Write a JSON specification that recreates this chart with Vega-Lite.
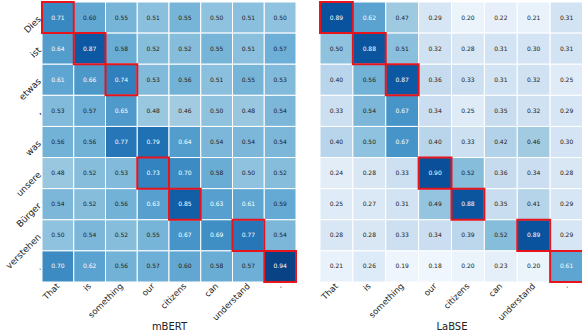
{
 "$schema": "https://vega.github.io/schema/vega-lite/v6.json",
 "padding": {"left": 4, "top": 1, "right": 0, "bottom": 0},
 "config": {"view": {"stroke": null}, "font": "DejaVu Sans", "concat": {"spacing": 22}},
 "datasets": {"cells": [
{"m":"mBERT","s":"Dies","t":"That","v":0.71,"g":true},{"m":"mBERT","s":"Dies","t":"is","v":0.60},{"m":"mBERT","s":"Dies","t":"something","v":0.55},{"m":"mBERT","s":"Dies","t":"our","v":0.51},{"m":"mBERT","s":"Dies","t":"citizens","v":0.55},{"m":"mBERT","s":"Dies","t":"can","v":0.50},{"m":"mBERT","s":"Dies","t":"understand","v":0.51},{"m":"mBERT","s":"Dies","t":".","v":0.50},
{"m":"mBERT","s":"ist","t":"That","v":0.64},{"m":"mBERT","s":"ist","t":"is","v":0.87,"g":true},{"m":"mBERT","s":"ist","t":"something","v":0.58},{"m":"mBERT","s":"ist","t":"our","v":0.52},{"m":"mBERT","s":"ist","t":"citizens","v":0.52},{"m":"mBERT","s":"ist","t":"can","v":0.55},{"m":"mBERT","s":"ist","t":"understand","v":0.51},{"m":"mBERT","s":"ist","t":".","v":0.57},
{"m":"mBERT","s":"etwas","t":"That","v":0.61},{"m":"mBERT","s":"etwas","t":"is","v":0.66},{"m":"mBERT","s":"etwas","t":"something","v":0.74,"g":true},{"m":"mBERT","s":"etwas","t":"our","v":0.53},{"m":"mBERT","s":"etwas","t":"citizens","v":0.56},{"m":"mBERT","s":"etwas","t":"can","v":0.51},{"m":"mBERT","s":"etwas","t":"understand","v":0.55},{"m":"mBERT","s":"etwas","t":".","v":0.53},
{"m":"mBERT","s":",","t":"That","v":0.53},{"m":"mBERT","s":",","t":"is","v":0.57},{"m":"mBERT","s":",","t":"something","v":0.65},{"m":"mBERT","s":",","t":"our","v":0.48},{"m":"mBERT","s":",","t":"citizens","v":0.46},{"m":"mBERT","s":",","t":"can","v":0.50},{"m":"mBERT","s":",","t":"understand","v":0.48},{"m":"mBERT","s":",","t":".","v":0.54},
{"m":"mBERT","s":"was","t":"That","v":0.56},{"m":"mBERT","s":"was","t":"is","v":0.56},{"m":"mBERT","s":"was","t":"something","v":0.77},{"m":"mBERT","s":"was","t":"our","v":0.79},{"m":"mBERT","s":"was","t":"citizens","v":0.64},{"m":"mBERT","s":"was","t":"can","v":0.54},{"m":"mBERT","s":"was","t":"understand","v":0.54},{"m":"mBERT","s":"was","t":".","v":0.54},
{"m":"mBERT","s":"unsere","t":"That","v":0.48},{"m":"mBERT","s":"unsere","t":"is","v":0.52},{"m":"mBERT","s":"unsere","t":"something","v":0.53},{"m":"mBERT","s":"unsere","t":"our","v":0.73,"g":true},{"m":"mBERT","s":"unsere","t":"citizens","v":0.70},{"m":"mBERT","s":"unsere","t":"can","v":0.58},{"m":"mBERT","s":"unsere","t":"understand","v":0.50},{"m":"mBERT","s":"unsere","t":".","v":0.52},
{"m":"mBERT","s":"Bürger","t":"That","v":0.54},{"m":"mBERT","s":"Bürger","t":"is","v":0.52},{"m":"mBERT","s":"Bürger","t":"something","v":0.56},{"m":"mBERT","s":"Bürger","t":"our","v":0.63},{"m":"mBERT","s":"Bürger","t":"citizens","v":0.85,"g":true},{"m":"mBERT","s":"Bürger","t":"can","v":0.63},{"m":"mBERT","s":"Bürger","t":"understand","v":0.61},{"m":"mBERT","s":"Bürger","t":".","v":0.59},
{"m":"mBERT","s":"verstehen","t":"That","v":0.50},{"m":"mBERT","s":"verstehen","t":"is","v":0.54},{"m":"mBERT","s":"verstehen","t":"something","v":0.52},{"m":"mBERT","s":"verstehen","t":"our","v":0.55},{"m":"mBERT","s":"verstehen","t":"citizens","v":0.67},{"m":"mBERT","s":"verstehen","t":"can","v":0.69},{"m":"mBERT","s":"verstehen","t":"understand","v":0.77,"g":true},{"m":"mBERT","s":"verstehen","t":".","v":0.54},
{"m":"mBERT","s":".","t":"That","v":0.70},{"m":"mBERT","s":".","t":"is","v":0.62},{"m":"mBERT","s":".","t":"something","v":0.56},{"m":"mBERT","s":".","t":"our","v":0.57},{"m":"mBERT","s":".","t":"citizens","v":0.60},{"m":"mBERT","s":".","t":"can","v":0.58},{"m":"mBERT","s":".","t":"understand","v":0.57},{"m":"mBERT","s":".","t":".","v":0.94,"g":true},
{"m":"LaBSE","s":"Dies","t":"That","v":0.89,"g":true},{"m":"LaBSE","s":"Dies","t":"is","v":0.62},{"m":"LaBSE","s":"Dies","t":"something","v":0.47},{"m":"LaBSE","s":"Dies","t":"our","v":0.29},{"m":"LaBSE","s":"Dies","t":"citizens","v":0.20},{"m":"LaBSE","s":"Dies","t":"can","v":0.22},{"m":"LaBSE","s":"Dies","t":"understand","v":0.21},{"m":"LaBSE","s":"Dies","t":".","v":0.31},
{"m":"LaBSE","s":"ist","t":"That","v":0.50},{"m":"LaBSE","s":"ist","t":"is","v":0.88,"g":true},{"m":"LaBSE","s":"ist","t":"something","v":0.51},{"m":"LaBSE","s":"ist","t":"our","v":0.32},{"m":"LaBSE","s":"ist","t":"citizens","v":0.28},{"m":"LaBSE","s":"ist","t":"can","v":0.31},{"m":"LaBSE","s":"ist","t":"understand","v":0.30},{"m":"LaBSE","s":"ist","t":".","v":0.31},
{"m":"LaBSE","s":"etwas","t":"That","v":0.40},{"m":"LaBSE","s":"etwas","t":"is","v":0.56},{"m":"LaBSE","s":"etwas","t":"something","v":0.87,"g":true},{"m":"LaBSE","s":"etwas","t":"our","v":0.36},{"m":"LaBSE","s":"etwas","t":"citizens","v":0.33},{"m":"LaBSE","s":"etwas","t":"can","v":0.31},{"m":"LaBSE","s":"etwas","t":"understand","v":0.32},{"m":"LaBSE","s":"etwas","t":".","v":0.25},
{"m":"LaBSE","s":",","t":"That","v":0.33},{"m":"LaBSE","s":",","t":"is","v":0.54},{"m":"LaBSE","s":",","t":"something","v":0.67},{"m":"LaBSE","s":",","t":"our","v":0.34},{"m":"LaBSE","s":",","t":"citizens","v":0.25},{"m":"LaBSE","s":",","t":"can","v":0.35},{"m":"LaBSE","s":",","t":"understand","v":0.32},{"m":"LaBSE","s":",","t":".","v":0.29},
{"m":"LaBSE","s":"was","t":"That","v":0.40},{"m":"LaBSE","s":"was","t":"is","v":0.50},{"m":"LaBSE","s":"was","t":"something","v":0.67},{"m":"LaBSE","s":"was","t":"our","v":0.40},{"m":"LaBSE","s":"was","t":"citizens","v":0.33},{"m":"LaBSE","s":"was","t":"can","v":0.42},{"m":"LaBSE","s":"was","t":"understand","v":0.46},{"m":"LaBSE","s":"was","t":".","v":0.30},
{"m":"LaBSE","s":"unsere","t":"That","v":0.24},{"m":"LaBSE","s":"unsere","t":"is","v":0.28},{"m":"LaBSE","s":"unsere","t":"something","v":0.33},{"m":"LaBSE","s":"unsere","t":"our","v":0.90,"g":true},{"m":"LaBSE","s":"unsere","t":"citizens","v":0.52},{"m":"LaBSE","s":"unsere","t":"can","v":0.36},{"m":"LaBSE","s":"unsere","t":"understand","v":0.34},{"m":"LaBSE","s":"unsere","t":".","v":0.28},
{"m":"LaBSE","s":"Bürger","t":"That","v":0.25},{"m":"LaBSE","s":"Bürger","t":"is","v":0.27},{"m":"LaBSE","s":"Bürger","t":"something","v":0.31},{"m":"LaBSE","s":"Bürger","t":"our","v":0.49},{"m":"LaBSE","s":"Bürger","t":"citizens","v":0.88,"g":true},{"m":"LaBSE","s":"Bürger","t":"can","v":0.35},{"m":"LaBSE","s":"Bürger","t":"understand","v":0.41},{"m":"LaBSE","s":"Bürger","t":".","v":0.29},
{"m":"LaBSE","s":"verstehen","t":"That","v":0.28},{"m":"LaBSE","s":"verstehen","t":"is","v":0.28},{"m":"LaBSE","s":"verstehen","t":"something","v":0.33},{"m":"LaBSE","s":"verstehen","t":"our","v":0.34},{"m":"LaBSE","s":"verstehen","t":"citizens","v":0.39},{"m":"LaBSE","s":"verstehen","t":"can","v":0.52},{"m":"LaBSE","s":"verstehen","t":"understand","v":0.89,"g":true},{"m":"LaBSE","s":"verstehen","t":".","v":0.29},
{"m":"LaBSE","s":".","t":"That","v":0.21},{"m":"LaBSE","s":".","t":"is","v":0.26},{"m":"LaBSE","s":".","t":"something","v":0.19},{"m":"LaBSE","s":".","t":"our","v":0.18},{"m":"LaBSE","s":".","t":"citizens","v":0.20},{"m":"LaBSE","s":".","t":"can","v":0.23},{"m":"LaBSE","s":".","t":"understand","v":0.20},{"m":"LaBSE","s":".","t":".","v":0.61,"g":true}
 ]},
 "hconcat": [
  {
   "width": 254, "height": 280,
   "data": {"name": "cells"},
   "transform": [{"filter": "datum.m === 'mBERT'"}],
   "encoding": {
    "x": {"field": "t", "type": "nominal", "sort": ["That","is","something","our","citizens","can","understand","."],
      "axis": {"title": "mBERT", "labelAngle": 315, "labelAlign": "right", "labelBaseline": "middle", "labelFontSize": 8.5, "labelColor": "#222", "domain": false, "ticks": false, "labelPadding": 2, "labelOverlap": false, "titleFontSize": 10, "titleFontWeight": "normal", "titleColor": "#222", "titlePadding": 0}},
    "y": {"field": "s", "type": "nominal", "sort": ["Dies","ist","etwas",",","was","unsere","Bürger","verstehen","."],
      "axis": {"title": null, "labelAngle": 315, "labelAlign": "right", "labelBaseline": "middle", "labelFontSize": 9, "labelColor": "#222", "domain": false, "ticks": false, "labelPadding": 3, "minExtent": 32, "maxExtent": 32}}
   },
   "layer": [
    {"mark": {"type": "rect", "stroke": "white", "strokeWidth": 1},
     "encoding": {"color": {"field": "v", "type": "quantitative", "legend": null,
       "scale": {"domain": [0.15, 1.0], "range": ["#f7fbff","#deebf7","#c6dbef","#9ecae1","#6baed6","#4292c6","#2171b5","#08519c","#08306b"]}}}},
    {"mark": {"type": "text", "fontSize": 6},
     "encoding": {"text": {"field": "v", "type": "quantitative", "format": ".2f"},
       "color": {"condition": {"test": "datum.v > 0.6", "value": "white"}, "value": "#222"}}},
    {"transform": [{"filter": "datum.g"}],
     "mark": {"type": "rect", "filled": false, "stroke": "#e8141c", "strokeWidth": 2}}
   ]
  },
  {
   "width": 263, "height": 280,
   "data": {"name": "cells"},
   "transform": [{"filter": "datum.m === 'LaBSE'"}],
   "encoding": {
    "x": {"field": "t", "type": "nominal", "sort": ["That","is","something","our","citizens","can","understand","."],
      "axis": {"title": "LaBSE", "labelAngle": 315, "labelAlign": "right", "labelBaseline": "middle", "labelFontSize": 8.5, "labelColor": "#222", "domain": false, "ticks": false, "labelPadding": 2, "labelOverlap": false, "titleFontSize": 10, "titleFontWeight": "normal", "titleColor": "#222", "titlePadding": 0}},
    "y": {"field": "s", "type": "nominal", "sort": ["Dies","ist","etwas",",","was","unsere","Bürger","verstehen","."], "axis": null}
   },
   "layer": [
    {"mark": {"type": "rect", "stroke": "white", "strokeWidth": 1},
     "encoding": {"color": {"field": "v", "type": "quantitative", "legend": null,
       "scale": {"domain": [0.15, 1.0], "range": ["#f7fbff","#deebf7","#c6dbef","#9ecae1","#6baed6","#4292c6","#2171b5","#08519c","#08306b"]}}}},
    {"mark": {"type": "text", "fontSize": 6},
     "encoding": {"text": {"field": "v", "type": "quantitative", "format": ".2f"},
       "color": {"condition": {"test": "datum.v > 0.6", "value": "white"}, "value": "#222"}}},
    {"transform": [{"filter": "datum.g"}],
     "mark": {"type": "rect", "filled": false, "stroke": "#e8141c", "strokeWidth": 2}}
   ]
  }
 ],
 "resolve": {"scale": {"color": "shared"}}
}
